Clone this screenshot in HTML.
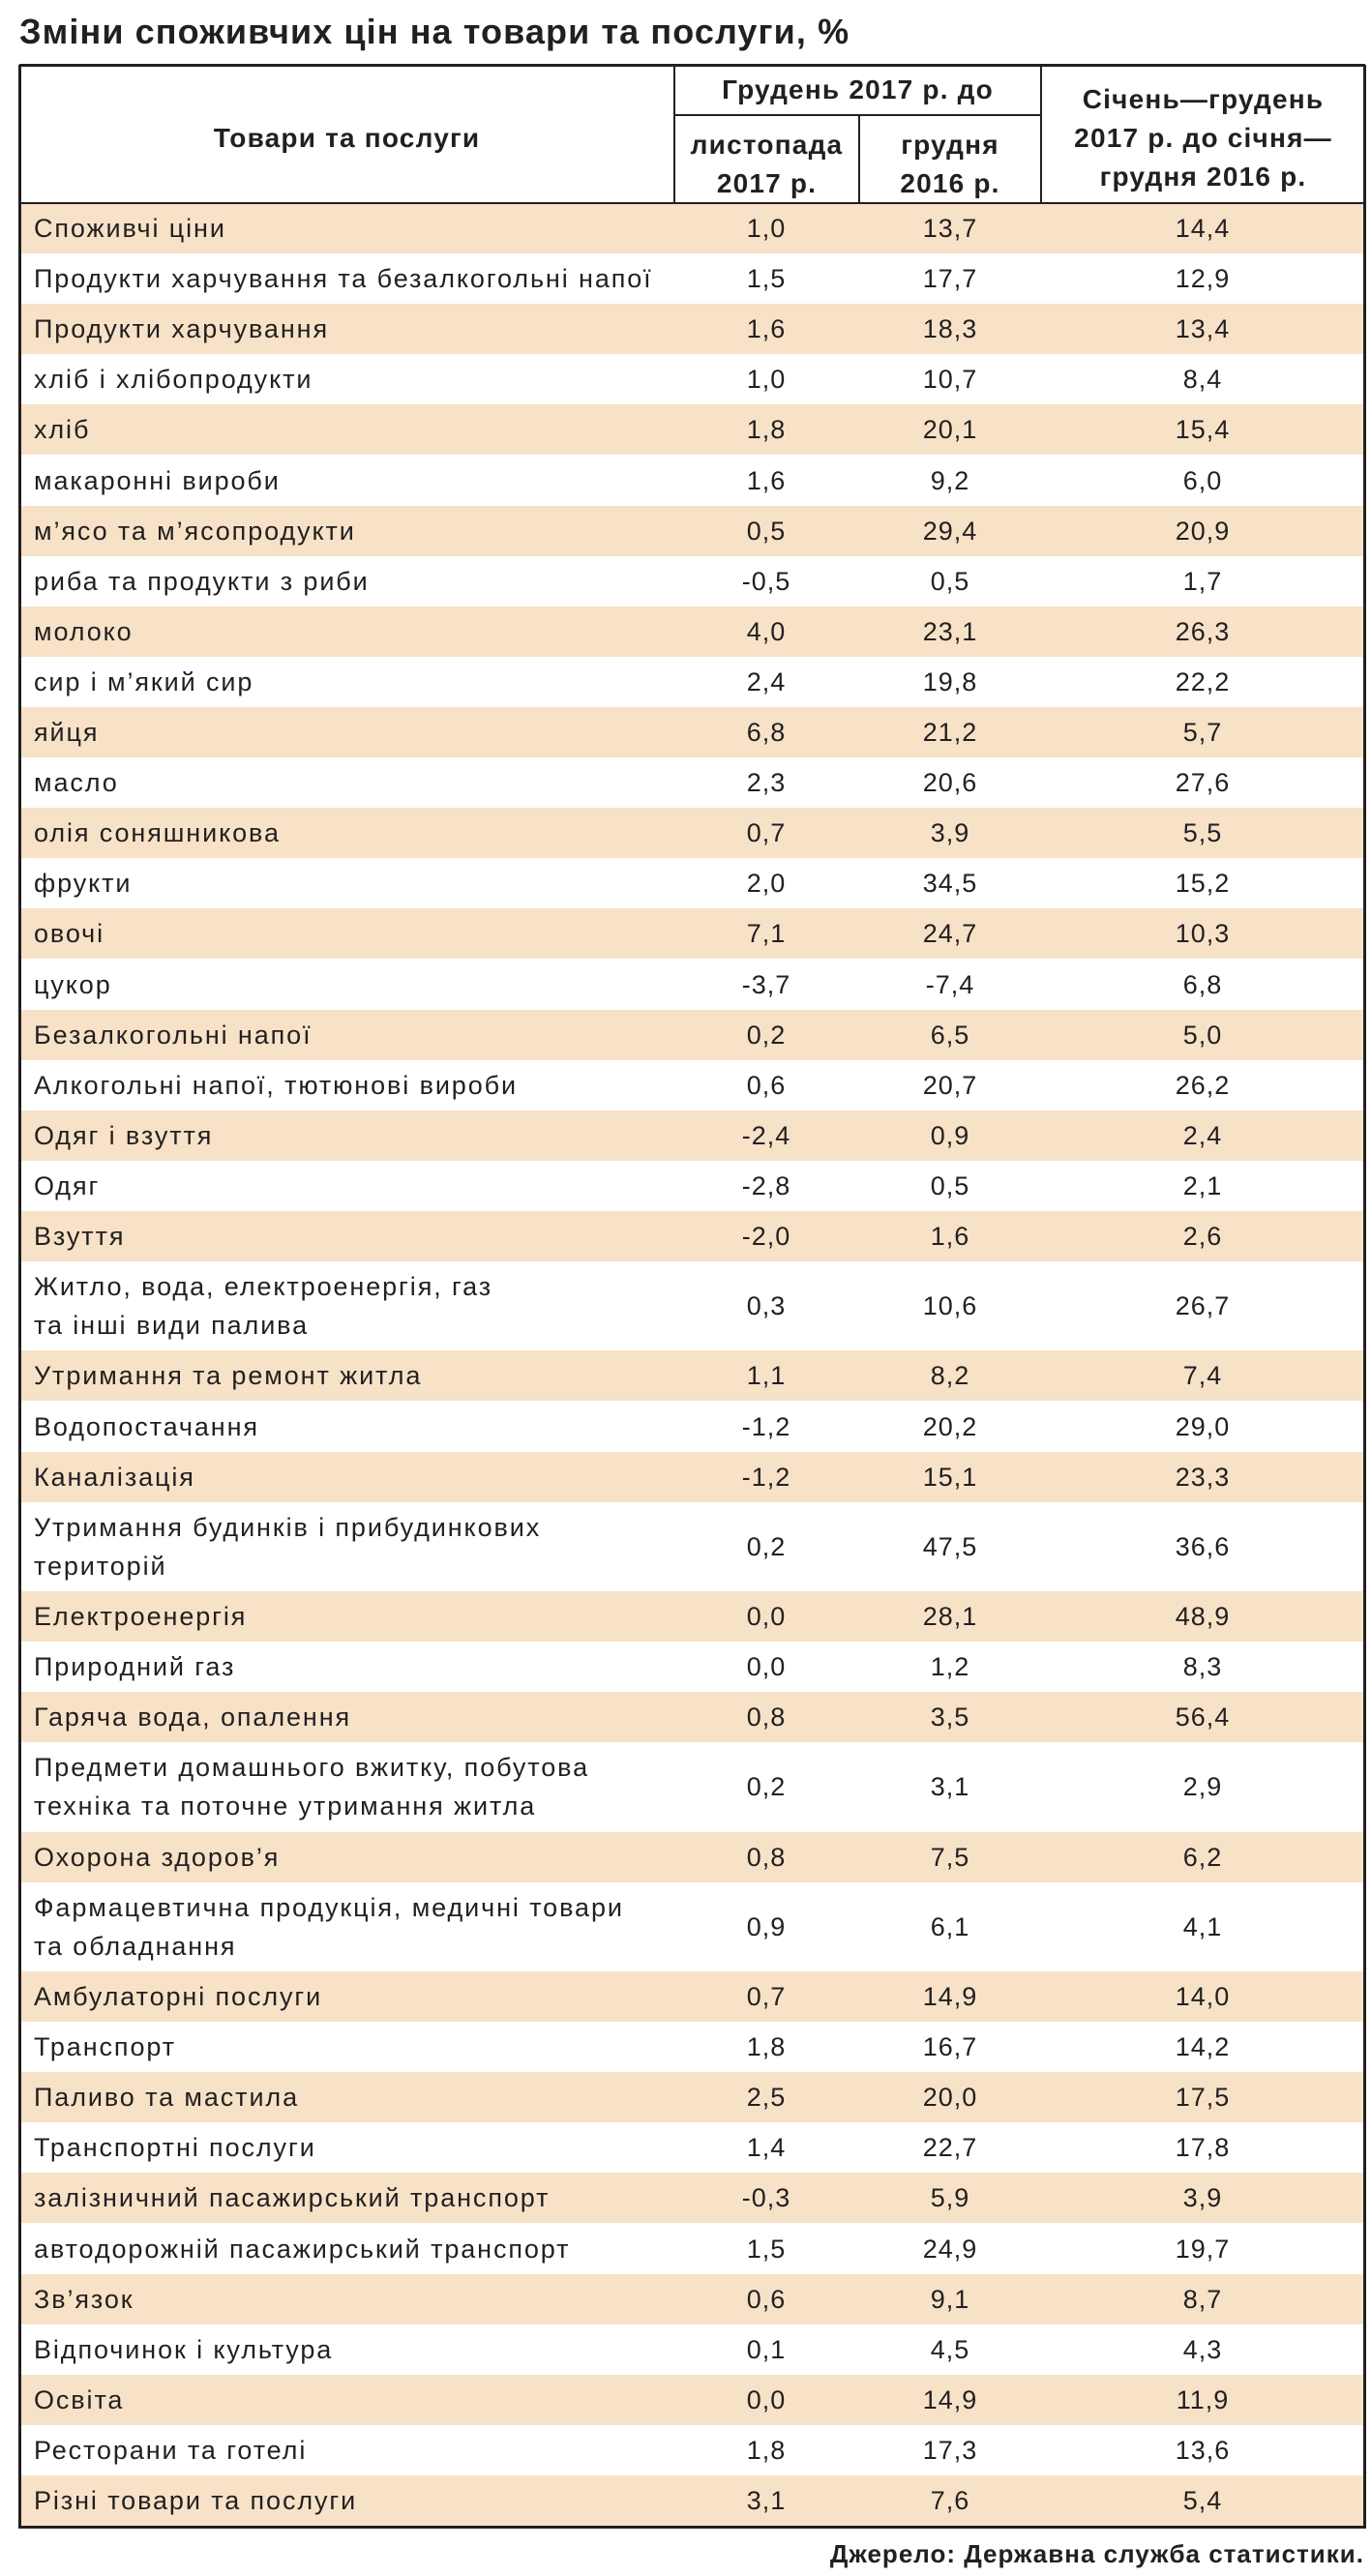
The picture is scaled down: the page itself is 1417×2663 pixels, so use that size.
<!DOCTYPE html>
<html><head><meta charset="utf-8">
<style>
body{margin:0;background:#fff;width:1417px;height:2663px;position:relative;overflow:hidden;font-family:"Liberation Sans","Noto Sans CJK SC",sans-serif;color:#231f20}
.a{position:absolute}
.t{white-space:nowrap}
.hd{font-weight:bold;font-size:28px;text-align:center;line-height:40px;letter-spacing:1.2px}
.row{position:absolute;left:20px;width:1390px}
.cell{position:absolute;font-size:27px;white-space:nowrap}
.lab{letter-spacing:1.9px}
.val{letter-spacing:1px}
.ln{position:absolute;background:#231f20}
</style></head><body>
<div class="a t" style="left:20px;top:13px;font-size:36px;font-weight:bold;line-height:40px;letter-spacing:1.1px">Зміни споживчих цін на товари та послуги, %</div>
<div id="tbl"></div>
<div class="ln" style="left:20px;top:66px;width:1391px;height:3px"></div>
<div class="ln" style="left:697px;top:118px;width:379px;height:2px"></div>
<div class="ln" style="left:696px;top:67px;width:2px;height:143px"></div>
<div class="ln" style="left:887px;top:119px;width:2px;height:91px"></div>
<div class="ln" style="left:1075px;top:67px;width:2px;height:143px"></div>
<div class="ln" style="left:20px;top:209px;width:1391px;height:2px"></div>
<div class="a hd" style="left:20px;width:677px;top:123px">Товари та послуги</div>
<div class="a hd" style="left:697px;width:379px;top:73px">Грудень 2017 р. до</div>
<div class="a hd" style="left:697px;width:191px;top:130px">листопада<br>2017 р.</div>
<div class="a hd" style="left:888px;width:188px;top:130px">грудня<br>2016 р.</div>
<div class="a hd" style="left:1076px;width:335px;top:83px">Січень—грудень<br>2017 р. до січня—<br>грудня 2016 р.</div>
<div class="a t" style="right:7px;top:2625px;font-size:26px;font-weight:bold;letter-spacing:1px">Джерело: Державна служба статистики.</div>
<script>
const categories=["Споживчі ціни","Продукти харчування та безалкогольні напої","Продукти харчування","хліб і хлібопродукти","хліб","макаронні вироби","м’ясо та м’ясопродукти","риба та продукти з риби","молоко","сир і м’який сир","яйця","масло","олія соняшникова","фрукти","овочі","цукор","Безалкогольні напої","Алкогольні напої, тютюнові вироби","Одяг і взуття","Одяг","Взуття","Житло, вода, електроенергія, газ|та інші види палива","Утримання та ремонт житла","Водопостачання","Каналізація","Утримання будинків і прибудинкових|територій","Електроенергія","Природний газ","Гаряча вода, опалення","Предмети домашнього вжитку, побутова|техніка та поточне утримання житла","Охорона здоров’я","Фармацевтична продукція, медичні товари|та обладнання","Амбулаторні послуги","Транспорт","Паливо та мастила","Транспортні послуги","залізничний пасажирський транспорт","автодорожній пасажирський транспорт","Зв’язок","Відпочинок і культура","Освіта","Ресторани та готелі","Різні товари та послуги"];
const vsNov2017=["1,0","1,5","1,6","1,0","1,8","1,6","0,5","-0,5","4,0","2,4","6,8","2,3","0,7","2,0","7,1","-3,7","0,2","0,6","-2,4","-2,8","-2,0","0,3","1,1","-1,2","-1,2","0,2","0,0","0,0","0,8","0,2","0,8","0,9","0,7","1,8","2,5","1,4","-0,3","1,5","0,6","0,1","0,0","1,8","3,1"];
const vsDec2016=["13,7","17,7","18,3","10,7","20,1","9,2","29,4","0,5","23,1","19,8","21,2","20,6","3,9","34,5","24,7","-7,4","6,5","20,7","0,9","0,5","1,6","10,6","8,2","20,2","15,1","47,5","28,1","1,2","3,5","3,1","7,5","6,1","14,9","16,7","20,0","22,7","5,9","24,9","9,1","4,5","14,9","17,3","7,6"];
const yearAvg=["14,4","12,9","13,4","8,4","15,4","6,0","20,9","1,7","26,3","22,2","5,7","27,6","5,5","15,2","10,3","6,8","5,0","26,2","2,4","2,1","2,6","26,7","7,4","29,0","23,3","36,6","48,9","8,3","56,4","2,9","6,2","4,1","14,0","14,2","17,5","17,8","3,9","19,7","8,7","4,3","11,9","13,6","5,4"];
const tbl=document.getElementById('tbl');
const S=52.1,D=92.3;
let y=210;
const centers=[792,982,1243];
categories.forEach((c,i)=>{
  const lines=c.split('|');
  const h=lines.length>1?D:S;
  const r=document.createElement('div');
  r.className='row';
  
  
  r.style.top=y+'px';r.style.height=h+'px';
  r.style.background=i%2===0?'#f7e2c8':'#fff';
  const lab=document.createElement('div');
  lab.className='cell lab';
  
  
  lab.style.left='15px';
  lab.style.lineHeight=(lines.length>1?40:S)+'px';
  lab.style.top=(lines.length>1?6:0)+'px';
  lab.innerHTML=lines.join('<br>');
  r.appendChild(lab);
  [vsNov2017[i],vsDec2016[i],yearAvg[i]].forEach((v,k)=>{
    const d=document.createElement('div');
    d.className='cell val';
    
    
    d.style.left=(centers[k]-20-80)+'px';d.style.width='160px';d.style.textAlign='center';
    d.style.lineHeight=h+'px';d.style.top='0px';
    d.textContent=v;
    r.appendChild(d);
  });
  tbl.appendChild(r);
  y+=h;
});
const mk=(n,l,t,w,hh)=>{const e=document.createElement('div');e.className='ln';


e.style.left=l+'px';e.style.top=t+'px';e.style.width=w+'px';e.style.height=hh+'px';document.body.appendChild(e);};
mk('table-bottom-border',20,y,1391,3);
mk('table-left-border',19,67,3,y-64);
mk('table-right-border',1409,67,3,y-64);
</script>
</body></html>
